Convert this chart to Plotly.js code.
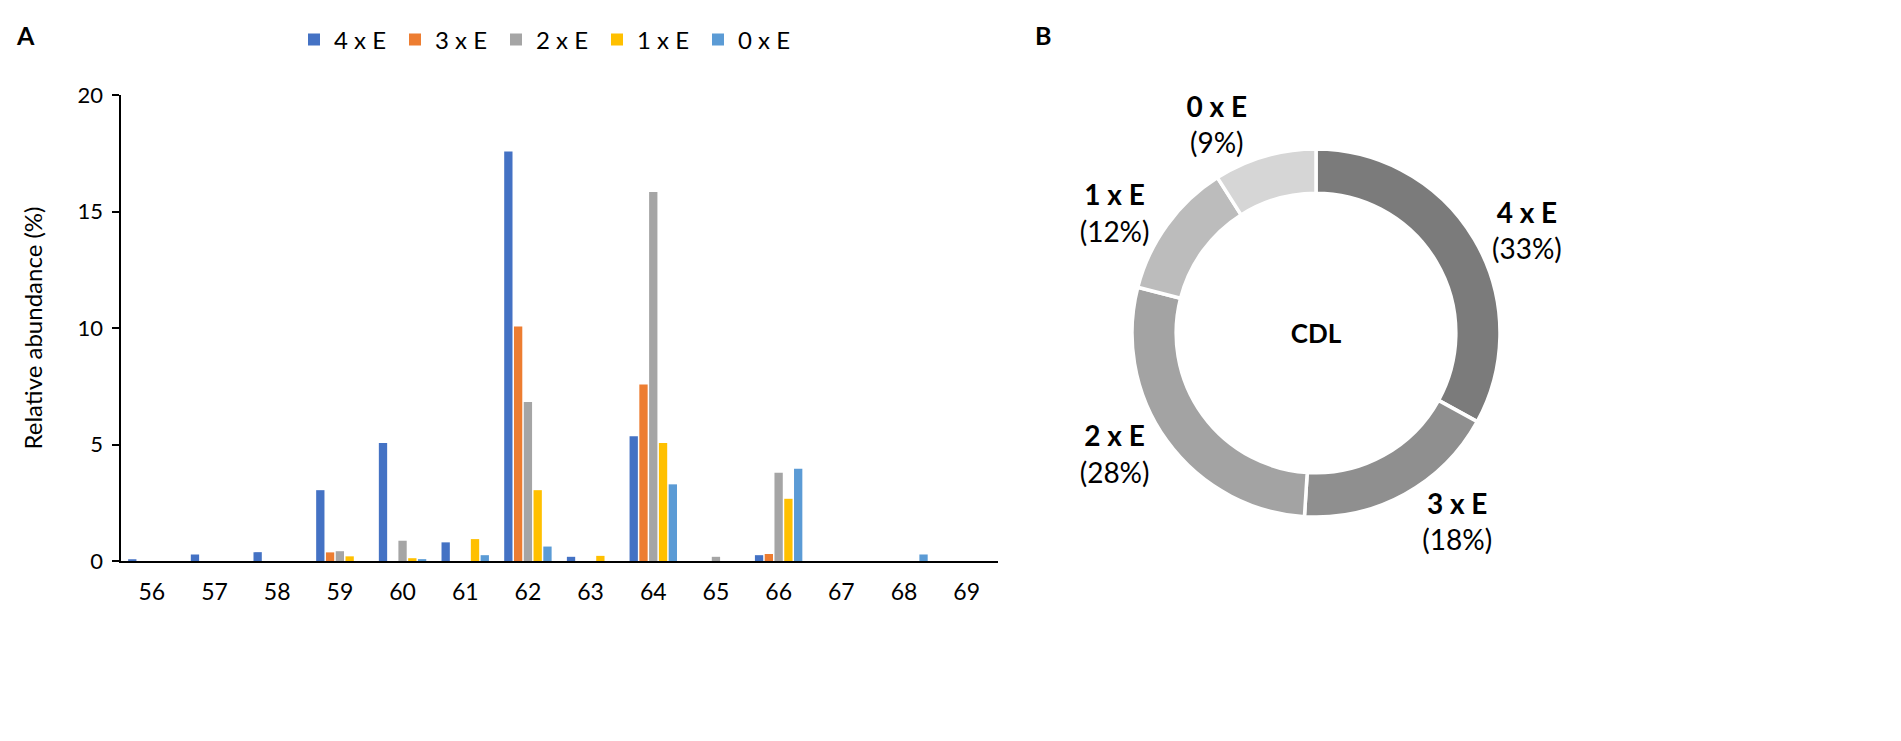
<!DOCTYPE html>
<html>
<head>
<meta charset="utf-8">
<script src="https://cdn.plot.ly/plotly-3.0.1.min.js"></script>
<style>
  html, body { margin: 0; padding: 0; background: #fff; }
  #chart { width: 1901px; height: 741px; }
</style>
</head>
<body>
<div id="chart"></div>
<script>
// ─── Data ───

const masses = ["56", "57", "58", "59", "60", "61", "62", "63", "64", "65", "66", "67", "68", "69"];

const series4E = [0.07, 0.28, 0.38, 3.04, 5.06, 0.8, 17.58, 0.18, 5.35, 0, 0.25, 0, 0, 0];
const series3E = [0, 0, 0, 0.37, 0, 0, 10.06, 0, 7.57, 0, 0.3, 0, 0, 0];
const series2E = [0, 0, 0, 0.42, 0.87, 0, 6.82, 0, 15.84, 0.18, 3.79, 0, 0, 0];
const series1E = [0, 0, 0, 0.2, 0.12, 0.94, 3.04, 0.22, 5.06, 0, 2.67, 0, 0, 0];
const series0E = [0, 0, 0, 0, 0.08, 0.25, 0.62, 0, 3.29, 0, 3.96, 0, 0.28, 0];

const seriesNames = ["4 x E", "3 x E", "2 x E", "1 x E", "0 x E"];
const seriesColors = ["#4472C4", "#ED7D31", "#A5A5A5", "#FFC000", "#5B9BD5"];

const donutLabels = ["4 x E", "3 x E", "2 x E", "1 x E", "0 x E"];
const donutShares = [33, 18, 28, 12, 9];
const donutColors = ["#7b7b7b", "#8f8f8f", "#a3a3a3", "#bcbcbc", "#d6d6d6"];

// ─── Layout helpers ───

const W = 1901;
const H = 741;
const px = (x) => x / W;
const py = (y) => 1 - y / H;
const FONT = "Lato, 'Open Sans', sans-serif";

// ─── Panel A: grouped bars ───

const allSeries = [series4E, series3E, series2E, series1E, series0E];
const barTraces = allSeries.map((vals, i) => ({
  x: masses,
  y: vals,
  type: "bar",
  name: seriesNames[i],
  marker: { color: seriesColors[i] },
  xaxis: "x",
  yaxis: "y",
  hoverinfo: "skip",
}));

// ─── Panel B: donut ───

const R = 184;
const CX = 1316;
const CY = 333;
const donut = {
  type: "pie",
  labels: donutLabels,
  values: donutShares,
  hole: 0.76,
  sort: false,
  direction: "clockwise",
  rotation: 0,
  showlegend: false,
  marker: { colors: donutColors, line: { color: "#fff", width: 3.5 } },
  textposition: "outside",
  texttemplate: "<b>%{label}</b><br>(%{percent:.0%})",
  textfont: { family: FONT, size: 28, color: "#000" },
  title: { text: "<b>CDL</b>", position: "middle center", font: { family: FONT, size: 26, color: "#000" } },
  domain: { x: [px(CX - R), px(CX + R)], y: [py(CY + R), py(CY - R)] },
  hoverinfo: "skip",
};

const layout = {
  width: W,
  height: H,
  margin: { l: 0, r: 0, t: 0, b: 0 },
  paper_bgcolor: "#fff",
  plot_bgcolor: "#fff",
  font: { family: FONT, size: 20, color: "#000" },
  barmode: "group",
  bargap: 0.22,
  bargroupgap: 0.15,
  xaxis: {
    type: "category",
    domain: [px(120.5), px(998)],
    anchor: "y",
    showline: true,
    linecolor: "#000",
    linewidth: 2,
    ticks: "",
    showgrid: false,
    tickfont: { family: FONT, size: 23 },
    ticklabelstandoff: 9,
  },
  yaxis: {
    domain: [py(561), py(95)],
    anchor: "x",
    range: [0, 20],
    dtick: 5,
    showline: true,
    linecolor: "#000",
    linewidth: 2,
    ticks: "outside",
    ticklen: 7,
    tickwidth: 2,
    tickcolor: "#000",
    showgrid: false,
    zeroline: false,
    tickfont: { family: FONT, size: 22 },
    ticklabelstandoff: 4,
    title: { text: "Relative abundance (%)", font: { family: FONT, size: 24 }, standoff: 28 },
  },
  legend: {
    orientation: "h",
    x: px(294),
    y: py(40),
    xanchor: "left",
    yanchor: "middle",
    font: { family: FONT, size: 24 },
    itemwidth: 30,
    entrywidth: 56,
    traceorder: "normal",
  },
  annotations: [
    { text: "<b>A</b>", x: px(14), y: py(18), xref: "paper", yref: "paper", showarrow: false, font: { family: FONT, size: 25 } },
    { text: "<b>B</b>", x: px(1043), y: py(18), xref: "paper", yref: "paper", showarrow: false, font: { family: FONT, size: 25 } },
  ],
};

Plotly.newPlot("chart", barTraces.concat([donut]), layout, { displayModeBar: false, staticPlot: true });
</script>
</body>
</html>
